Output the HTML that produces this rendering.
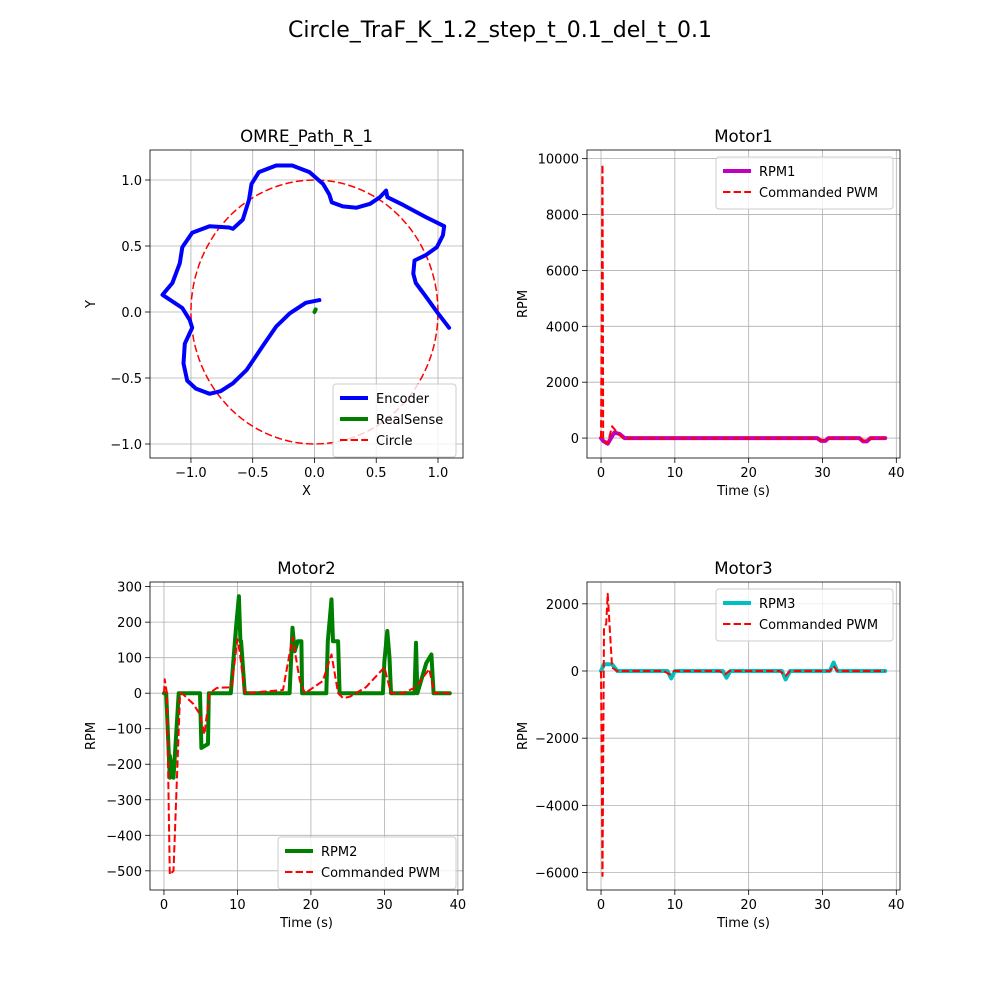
<!DOCTYPE html>
<html><head><meta charset="utf-8"><style>
body{margin:0;background:#fff}
svg text{font-family:"DejaVu Sans","Liberation Sans",sans-serif;fill:#000}
</style></head><body>
<svg id="fig" width="1000" height="1000" xmlns="http://www.w3.org/2000/svg">
<rect width="1000" height="1000" fill="#fff"/>
<text x="500" y="37" font-size="22" text-anchor="middle">Circle_TraF_K_1.2_step_t_0.1_del_t_0.1</text>
</svg>
<script>
// ---- Path panel data ----
const encX=[0.04,-0.07,-0.20,-0.31,-0.42,-0.55,-0.66,-0.76,-0.85,-0.96,-1.03,-1.06,-1.05,-1.01,-0.99,-1.01,-1.07,-1.23,-1.15,-1.09,-1.07,-0.99,-0.85,-0.69,-0.66,-0.58,-0.53,-0.51,-0.45,-0.31,-0.18,-0.04,0.07,0.12,0.14,0.23,0.34,0.45,0.53,0.58,0.59,0.72,0.90,1.05,1.04,0.99,0.90,0.81,0.80,0.82,0.90,1.00,1.09];
const encY=[0.09,0.07,-0.01,-0.11,-0.26,-0.44,-0.54,-0.60,-0.62,-0.58,-0.52,-0.39,-0.24,-0.16,-0.12,-0.06,0.03,0.13,0.22,0.37,0.49,0.60,0.65,0.64,0.63,0.70,0.85,0.97,1.06,1.11,1.11,1.06,0.97,0.89,0.83,0.80,0.79,0.82,0.87,0.92,0.87,0.81,0.72,0.65,0.58,0.49,0.43,0.39,0.29,0.22,0.12,-0.01,-0.12];
const rsX=[0.0,0.005,0.01];
const rsY=[0.0,0.01,0.02];
const circleR=1.0;
// ---- Motor1 ----
const m1T=[0,0.3,0.9,1.8,2.5,3.2,29.3,29.8,30.4,30.8,35.0,35.5,36.0,36.5,38.5];
const m1V=[0,-100,-200,200,150,0,0,-100,-100,0,0,-120,-120,0,0];
const m1cT=[0,0.2,0.3,0.9,1.5,2.2,3.0,29.0,29.8,30.5,31.0,35.0,35.6,36.2,36.6,38.5];
const m1cV=[0,9800,-100,-200,420,200,0,0,-80,-80,0,0,-100,-90,0,0];
// ---- Motor2 ----
const m2T=[0,0.3,0.8,0.8,1.3,2.0,4.9,5.1,6.0,6.1,9.1,9.8,10.2,10.4,10.5,11.0,17.1,17.5,17.8,18.2,18.7,18.8,22.1,22.3,22.8,23.0,23.7,23.9,29.8,30.0,30.4,30.7,30.9,34.1,34.3,34.5,35.7,36.4,36.7,38.9];
const m2V=[0,0,-238,-176,-238,0,0,-154,-143,0,0,184,273,146,146,0,0,184,118,146,146,0,0,146,264,146,146,0,0,90,175,100,0,0,142,0,85,109,0,0];
const m2cT=[0,0.1,0.4,0.8,1.3,2.2,2.6,4.0,4.9,5.5,6.2,7.2,9.2,10.0,10.3,11.0,16.2,17.5,18.5,19.2,21.6,22.8,23.7,24.4,25.3,27.5,30.0,30.9,32.5,34.3,36.1,36.8,38.9];
const m2cV=[0,39,0,-511,-500,0,-3,-30,-60,-116,0,15,17,152,118,0,9,157,34,0,34,109,0,-14,-10,17,73,0,0,17,68,0,0];
// ---- Motor3 ----
const m3T=[0,0.4,0.6,1.5,2.2,9.0,9.5,10.0,16.5,17.0,17.5,24.5,25.0,25.6,31.0,31.5,32.0,38.5];
const m3V=[0,200,200,200,0,0,-220,0,0,-200,0,0,-250,0,0,250,0,0];
const m3cT=[0,0.2,0.4,0.7,0.9,1.5,2.2,8.5,9.3,9.9,16.0,16.8,17.4,24.2,25.0,25.6,31.0,31.5,32.0,38.5];
const m3cV=[0,-6100,1300,1400,2300,100,0,0,-100,0,0,-100,0,0,-150,0,0,150,0,0];

const svg=document.getElementById('fig');
const NS='http://www.w3.org/2000/svg';
function mk(tag,attrs,parent){const e=document.createElementNS(NS,tag);for(const k in attrs)e.setAttribute(k,attrs[k]);(parent||svg).appendChild(e);return e;}

function panel(o){
  const g=mk('g',{});
  
  
  const sx=v=>o.x0+(v-o.xmin)/(o.xmax-o.xmin)*(o.x1-o.x0);
  const sy=v=>o.y1-(v-o.ymin)/(o.ymax-o.ymin)*(o.y1-o.y0);
  o.xt.forEach(t=>{const X=sx(t);
    const l=mk('line',{x1:X,x2:X,y1:o.y0,y2:o.y1,stroke:'#b0b0b0','stroke-width':0.8},g);
    
    mk('line',{x1:X,x2:X,y1:o.y1,y2:o.y1+5,stroke:'#000','stroke-width':0.8},g);
    const tx=mk('text',{x:X,y:o.y1+19,'font-size':13,'text-anchor':'middle'},g);tx.textContent=o.xl(t);
    
  });
  o.yt.forEach(t=>{const Y=sy(t);
    const l=mk('line',{x1:o.x0,x2:o.x1,y1:Y,y2:Y,stroke:'#b0b0b0','stroke-width':0.8},g);
    
    mk('line',{x1:o.x0-5,x2:o.x0,y1:Y,y2:Y,stroke:'#000','stroke-width':0.8},g);
    const tx=mk('text',{x:o.x0-8,y:Y+5,'font-size':13,'text-anchor':'end'},g);tx.textContent=o.yl(t);
    
  });
  const cp='cp'+o.name;
  const d=mk('defs',{},g);const c=mk('clipPath',{id:cp},d);mk('rect',{x:o.x0,y:o.y0,width:o.x1-o.x0,height:o.y1-o.y0},c);
  o.series.forEach(s=>{
    const pts=s.xs.map((v,i)=>sx(v).toFixed(1)+','+sy(s.ys[i]).toFixed(1)).join(' ');
    const p=mk('polyline',{points:pts,fill:'none',stroke:s.color,'stroke-width':s.w,'stroke-linejoin':'round','stroke-linecap':s.dash?'butt':'round','clip-path':'url(#'+cp+')'},g);
    if(s.dash)p.setAttribute('stroke-dasharray','7.4,3.2');
    
  });
  const fr=mk('rect',{x:o.x0,y:o.y0,width:o.x1-o.x0,height:o.y1-o.y0,fill:'none',stroke:'#000','stroke-width':0.8},g);
  
  const ti=mk('text',{x:(o.x0+o.x1)/2,y:o.y0-8,'font-size':16.6,'text-anchor':'middle'},g);ti.textContent=o.title;
  
  const xa=mk('text',{x:(o.x0+o.x1)/2,y:o.y1+37,'font-size':13,'text-anchor':'middle'},g);xa.textContent=o.xlabel;
  
  const yx=o.x0-o.ylOff,yy=(o.y0+o.y1)/2;
  const ya=mk('text',{x:yx,y:yy,'font-size':13,'text-anchor':'middle',transform:'rotate(-90 '+yx+' '+yy+')'},g);ya.textContent=o.ylabel;
  
  const L=o.leg;
  const lg=mk('g',{},g);
  
  mk('rect',{x:L.x,y:L.y,width:L.w,height:10+L.items.length*21,rx:3,fill:'#fff','fill-opacity':0.8,stroke:'#ccc','stroke-width':1},lg);
  L.items.forEach((it,i)=>{const Y=L.y+14+i*21;
    const ln=mk('line',{x1:L.x+7,x2:L.x+35,y1:Y,y2:Y,stroke:it.color,'stroke-width':it.w},lg);
    if(it.dash)ln.setAttribute('stroke-dasharray','7.4,3.2');
    const t=mk('text',{x:L.x+43,y:Y+5,'font-size':13},lg);t.textContent=it.label;
    
  });
}
const f1=t=>t.toFixed(1);
const f0=t=>String(t).replace('-','−');
const cx=[],cy=[];for(let i=0;i<=120;i++){const a=i/120*2*Math.PI;cx.push(circleR*Math.cos(a));cy.push(circleR*Math.sin(a));}
panel({name:'path-panel',x0:150,x1:463,y0:150,y1:458,xmin:-1.3314,xmax:1.2024,ymin:-1.1061,ymax:1.2273,
  xt:[-1,-0.5,0,0.5,1],yt:[-1,-0.5,0,0.5,1],xl:t=>f1(t).replace('-','−'),yl:t=>f1(t).replace('-','−'),
  title:'OMRE_Path_R_1',xlabel:'X',ylabel:'Y',ylOff:55,
  series:[{name:'circle-line',xs:cx,ys:cy,color:'#ff0000',w:1.5,dash:true},{name:'encoder-line',xs:encX,ys:encY,color:'#0000ff',w:4},{name:'realsense-line',xs:rsX,ys:rsY,color:'#008000',w:4}],
  leg:{x:333,y:384,w:123,items:[{label:'Encoder',color:'#0000ff',w:4},{label:'RealSense',color:'#008000',w:4},{label:'Circle',color:'#ff0000',w:2,dash:true}]}});
panel({name:'motor1-panel',x0:587,x1:900,y0:150,y1:458,xmin:-1.9,xmax:40.5,ymin:-713,ymax:10310,
  xt:[0,10,20,30,40],yt:[0,2000,4000,6000,8000,10000],xl:f0,yl:f0,
  title:'Motor1',xlabel:'Time (s)',ylabel:'RPM',ylOff:60,
  series:[{name:'rpm1-line',xs:m1T,ys:m1V,color:'#bf00bf',w:4},{name:'commanded-pwm-line',xs:m1cT,ys:m1cV,color:'#ff0000',w:2,dash:true}],
  leg:{x:716,y:157,w:177,items:[{label:'RPM1',color:'#bf00bf',w:4},{label:'Commanded PWM',color:'#ff0000',w:2,dash:true}]}});
panel({name:'motor2-panel',x0:150,x1:463,y0:582,y1:890,xmin:-1.9,xmax:40.7,ymin:-554,ymax:313,
  xt:[0,10,20,30,40],yt:[-500,-400,-300,-200,-100,0,100,200,300],xl:f0,yl:f0,
  title:'Motor2',xlabel:'Time (s)',ylabel:'RPM',ylOff:55,
  series:[{name:'rpm2-line',xs:m2T,ys:m2V,color:'#008000',w:4},{name:'commanded-pwm-line',xs:m2cT,ys:m2cV,color:'#ff0000',w:2,dash:true}],
  leg:{x:278,y:837,w:178,items:[{label:'RPM2',color:'#008000',w:4},{label:'Commanded PWM',color:'#ff0000',w:2,dash:true}]}});
panel({name:'motor3-panel',x0:587,x1:900,y0:582,y1:890,xmin:-1.9,xmax:40.5,ymin:-6520,ymax:2650,
  xt:[0,10,20,30,40],yt:[-6000,-4000,-2000,0,2000],xl:f0,yl:f0,
  title:'Motor3',xlabel:'Time (s)',ylabel:'RPM',ylOff:60,
  series:[{name:'rpm3-line',xs:m3T,ys:m3V,color:'#00bfbf',w:4},{name:'commanded-pwm-line',xs:m3cT,ys:m3cV,color:'#ff0000',w:2,dash:true}],
  leg:{x:716,y:589,w:177,items:[{label:'RPM3',color:'#00bfbf',w:4},{label:'Commanded PWM',color:'#ff0000',w:2,dash:true}]}});
</script>
</body></html>
